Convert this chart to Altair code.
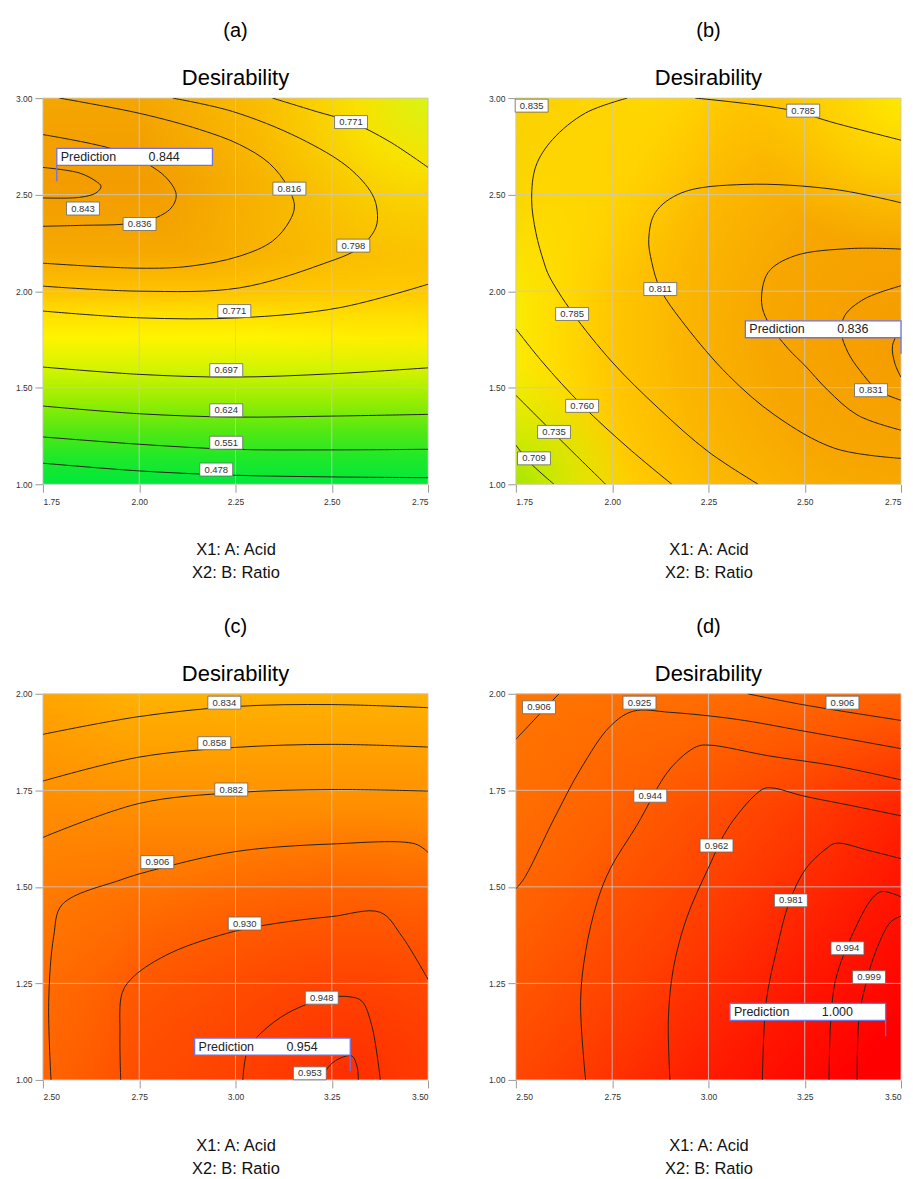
import altair as alt
import pandas as pd

FONT = "Liberation Sans, Arial, sans-serif"
NARROW = "Liberation Sans Narrow, Liberation Sans, Arial, sans-serif"

# ---------------- tick values ----------------
AB_X_TICKS = [1.75, 2.00, 2.25, 2.50, 2.75]
AB_Y_TICKS = [1.00, 1.50, 2.00, 2.50, 3.00]
CD_X_TICKS = [2.50, 2.75, 3.00, 3.25, 3.50]
CD_Y_TICKS = [1.00, 1.25, 1.50, 1.75, 2.00]

# ---------------- panel (a) ----------------
A_C0843 = [(1.75, 2.641), (1.845, 2.612), (1.888, 2.569), (1.901, 2.543), (1.888, 2.509), (1.845, 2.486), (1.75, 2.483)]
A_C0836 = [(1.75, 2.811), (1.923, 2.741), (2.009, 2.673), (2.071, 2.586), (2.096, 2.500), (2.083, 2.431), (2.034, 2.373), (1.966, 2.348), (1.853, 2.341), (1.75, 2.336)]
A_C0816 = [(1.793, 3.0), (2.001, 2.921), (2.156, 2.838), (2.260, 2.760), (2.338, 2.662), (2.385, 2.543), (2.403, 2.440), (2.390, 2.362), (2.346, 2.259), (2.260, 2.181), (2.130, 2.129), (2.001, 2.119), (1.75, 2.145)]
A_C0798 = [(2.087, 3.0), (2.242, 2.931), (2.416, 2.793), (2.545, 2.638), (2.605, 2.502), (2.618, 2.414), (2.614, 2.328), (2.571, 2.224), (2.475, 2.140), (2.260, 2.017), (2.001, 2.000), (1.75, 2.026)]
A_C0771_TOP = [(2.346, 3.0), (2.459, 2.931), (2.550, 2.876), (2.649, 2.776), (2.750, 2.641)]
A_C0771_LOW = [(1.75, 1.897), (2.001, 1.862), (2.260, 1.862), (2.519, 1.914), (2.750, 2.036)]
A_C0697 = [(1.75, 1.607), (2.001, 1.569), (2.242, 1.555), (2.501, 1.572), (2.750, 1.603)]
A_C0624 = [(1.75, 1.405), (2.001, 1.365), (2.242, 1.348), (2.501, 1.353), (2.750, 1.362)]
A_C0551 = [(1.75, 1.245), (2.001, 1.207), (2.242, 1.181), (2.501, 1.178), (2.750, 1.181)]
A_C0478 = [(1.75, 1.109), (2.001, 1.069), (2.242, 1.047), (2.501, 1.038), (2.750, 1.034)]
A_LABEL_TEXT = ["0.771", "0.843", "0.836", "0.816", "0.798", "0.771", "0.697", "0.624", "0.551", "0.478"]
A_LABEL_X = [2.550, 1.854, 2.001, 2.390, 2.556, 2.247, 2.226, 2.226, 2.226, 2.200]
A_LABEL_Y = [2.876, 2.428, 2.348, 2.531, 2.236, 1.897, 1.591, 1.383, 1.215, 1.076]
A_PRED = (1.786, 2.569, "0.844")

# ---------------- panel (b) ----------------
B_C0785_LEFT = [(2.039, 3.0), (1.931, 2.923), (1.845, 2.785), (1.802, 2.648), (1.791, 2.476), (1.802, 2.303), (1.823, 2.149), (1.836, 2.080), (1.896, 1.891), (2.000, 1.633), (2.121, 1.392), (2.250, 1.168), (2.379, 1.0)]
B_C0785_TOP = [(2.216, 3.0), (2.457, 2.940), (2.578, 2.871), (2.750, 2.782)]
B_C0709 = [(1.75, 1.203), (1.784, 1.117), (1.849, 1.0)]
B_C0735 = [(1.75, 1.461), (1.802, 1.357), (1.888, 1.186), (1.983, 1.0)]
B_C0760 = [(1.75, 1.805), (1.819, 1.633), (1.922, 1.409), (2.043, 1.186), (2.155, 1.0)]
B_C0811 = [(2.75, 2.458), (2.578, 2.527), (2.345, 2.553), (2.181, 2.510), (2.112, 2.407), (2.095, 2.269), (2.103, 2.149), (2.125, 2.011), (2.190, 1.822), (2.302, 1.564), (2.423, 1.357), (2.578, 1.186), (2.75, 1.134)]
B_C0823 = [(2.75, 2.218), (2.621, 2.221), (2.474, 2.183), (2.405, 2.097), (2.388, 1.942), (2.405, 1.839), (2.457, 1.702), (2.500, 1.616), (2.560, 1.487), (2.638, 1.357), (2.75, 1.280)]
B_C0831 = [(2.75, 2.028), (2.655, 1.960), (2.604, 1.874), (2.595, 1.787), (2.612, 1.684), (2.643, 1.590), (2.690, 1.487), (2.75, 1.435)]
B_C0835 = [(2.75, 1.812), (2.728, 1.719), (2.734, 1.626), (2.75, 1.554)]
B_LABEL_TEXT = ["0.835", "0.785", "0.811", "0.785", "0.760", "0.735", "0.709", "0.831"]
B_LABEL_X = [1.791, 2.496, 2.125, 1.896, 1.922, 1.849, 1.797, 2.672]
B_LABEL_Y = [2.961, 2.935, 2.011, 1.882, 1.406, 1.271, 1.134, 1.487]
B_PRED = (2.75, 1.676, "0.836")

# ---------------- panel (c) ----------------
C_C0834 = [(2.5, 1.895), (2.75, 1.941), (2.998, 1.967), (3.25, 1.972), (3.5, 1.964)]
C_C0858 = [(2.5, 1.774), (2.75, 1.836), (2.998, 1.861), (3.25, 1.869), (3.5, 1.862)]
C_C0882 = [(2.5, 1.628), (2.75, 1.716), (2.998, 1.744), (3.25, 1.752), (3.5, 1.748)]
C_C0906 = [(2.521, 1.0), (2.515, 1.201), (2.528, 1.372), (2.550, 1.454), (2.702, 1.518), (2.789, 1.544), (2.998, 1.591), (3.25, 1.611), (3.467, 1.611), (3.5, 1.589)]
C_C0930 = [(2.702, 1.0), (2.700, 1.114), (2.706, 1.226), (2.737, 1.269), (2.832, 1.329), (2.998, 1.385), (3.137, 1.410), (3.25, 1.423), (3.376, 1.434), (3.432, 1.372), (3.5, 1.260)]
C_C0948 = [(3.019, 1.0), (3.032, 1.079), (3.067, 1.122), (3.137, 1.174), (3.241, 1.213), (3.298, 1.215), (3.328, 1.204), (3.354, 1.140), (3.376, 1.0)]
C_C0953 = [(3.224, 1.0), (3.241, 1.033), (3.267, 1.054), (3.302, 1.062), (3.316, 1.033), (3.319, 1.0)]
C_LABEL_TEXT = ["0.834", "0.858", "0.882", "0.906", "0.930", "0.948", "0.953"]
C_LABEL_X = [2.971, 2.945, 2.989, 2.797, 3.024, 3.224, 3.193]
C_LABEL_Y = [1.977, 1.872, 1.752, 1.564, 1.405, 1.213, 1.017]
C_PRED = (3.298, 1.023, "0.954")

# ---------------- panel (d) ----------------
D_C0906_LEFT = [(2.612, 2.0), (2.565, 1.951), (2.5, 1.882)]
D_C0906_RIGHT = [(3.102, 2.0), (3.244, 1.972), (3.5, 1.931)]
D_C0925 = [(2.5, 1.495), (2.521, 1.521), (2.599, 1.676), (2.668, 1.805), (2.745, 1.916), (2.805, 1.955), (2.900, 1.952), (3.072, 1.934), (3.244, 1.904), (3.5, 1.858)]
D_C0944 = [(2.681, 1.0), (2.668, 1.203), (2.681, 1.332), (2.711, 1.461), (2.745, 1.547), (2.814, 1.659), (2.900, 1.805), (2.969, 1.863), (3.003, 1.867), (3.158, 1.839), (3.331, 1.813), (3.5, 1.777)]
D_C0962 = [(2.900, 1.0), (2.896, 1.160), (2.909, 1.289), (2.943, 1.418), (2.999, 1.547), (3.055, 1.659), (3.141, 1.753), (3.167, 1.756), (3.244, 1.736), (3.373, 1.710), (3.5, 1.684)]
D_C0981 = [(3.140, 1.0), (3.150, 1.203), (3.176, 1.332), (3.210, 1.461), (3.253, 1.547), (3.305, 1.598), (3.331, 1.613), (3.417, 1.594), (3.5, 1.573)]
D_C0994 = [(3.313, 1.0), (3.318, 1.160), (3.331, 1.263), (3.373, 1.375), (3.425, 1.470), (3.451, 1.488), (3.5, 1.474)]
D_C0999 = [(3.386, 1.0), (3.391, 1.160), (3.408, 1.246), (3.434, 1.332), (3.473, 1.409), (3.5, 1.424)]
D_LABEL_TEXT = ["0.906", "0.925", "0.906", "0.944", "0.962", "0.981", "0.994", "0.999"]
D_LABEL_X = [2.560, 2.821, 3.348, 2.849, 3.021, 3.214, 3.361, 3.417]
D_LABEL_Y = [1.965, 1.977, 1.977, 1.736, 1.607, 1.465, 1.341, 1.266]
D_PRED = (3.460, 1.113, "1.000")


# ---------------- styling helpers ----------------
def lin(stops, x1=0, y1=0, x2=0, y2=1):
    return {"gradient": "linear", "x1": x1, "y1": y1, "x2": x2, "y2": y2,
            "stops": [{"offset": o, "color": c} for o, c in stops]}


def rad(stops, cx, cy, r):
    return {"gradient": "radial", "x1": cx, "y1": cy, "r1": 0, "x2": cx, "y2": cy, "r2": r,
            "stops": [{"offset": o, "color": c} for o, c in stops]}


FILLS_A = [
    lin([(0, "#f5a600"), (0.22, "#f29c00"), (0.4, "#f6a800"), (0.5, "#ffc200"), (0.56, "#ffe000"),
         (0.62, "#fff400"), (0.7, "#d4f400"), (0.78, "#9aee00"), (0.86, "#55e812"), (0.93, "#20e828"), (1, "#00e83c")]),
    rad([(0, "rgba(215,245,20,1)"), (0.25, "rgba(250,235,0,0.85)"), (0.6, "rgba(255,215,0,0.45)"), (1, "rgba(255,210,0,0)")], 1, 0, 0.75),
]
FILLS_B = [
    rad([(0, "#f59c00"), (0.3, "#f7a600"), (0.5, "#fbb600"), (0.65, "#ffc600"), (0.78, "#ffdc00"),
         (0.88, "#faec00"), (0.95, "#d8ec00"), (1, "#b0e600")], 1, 0.62, 1.15),
    rad([(0, "rgba(255,208,0,1)"), (0.5, "rgba(255,210,0,0.8)"), (1, "rgba(255,212,0,0)")], 0, 0, 0.55),
    rad([(0, "rgba(255,232,0,1)"), (0.5, "rgba(255,222,0,0.6)"), (1, "rgba(255,210,0,0)")], 1, 0, 0.4),
    rad([(0, "rgba(170,230,0,1)"), (1, "rgba(200,235,0,0)")], 0, 1, 0.3),
]
FILLS_C = [
    lin([(0, "#ffb200"), (0.1, "#ffa600"), (0.25, "#ff9400"), (0.4, "#ff8000"), (0.55, "#ff6e00"), (0.75, "#ff5c00"), (1, "#ff5000")]),
    rad([(0, "rgba(255,40,0,0.85)"), (1, "rgba(255,60,0,0)")], 0.8, 1, 0.7),
    lin([(0, "rgba(255,140,0,0.35)"), (1, "rgba(255,140,0,0)")], 0, 0, 0.25, 0),
]
FILLS_D = [
    lin([(0, "#ff7c00"), (0.3, "#ff6000"), (0.55, "#ff4000"), (0.8, "#ff1800"), (1, "#ff0000")], 0, 0, 1, 0.85),
    lin([(0, "rgba(255,115,0,0.7)"), (1, "rgba(255,100,0,0)")], 0, 0, 0, 0.3),
]


def contour_df(contours):
    rows = []
    for name, pts in contours.items():
        for i, (x, y) in enumerate(pts):
            rows.append({"level": name, "o": i, "x": x, "y": y})
    return pd.DataFrame(rows)


def panel(letter, xdom, ydom, xticks, yticks, contours, ltext, lx, ly, pred, side, fills):
    xs = alt.Scale(domain=xdom, nice=False, zero=False)
    ys = alt.Scale(domain=ydom, nice=False, zero=False)
    xaxis = alt.Axis(values=xticks, format=".2f", title=["X1: A: Acid", "X2: B: Ratio"], grid=False,
                     domain=False, tickSize=8, tickColor="#999999", labelFontSize=8.5, labelFont=NARROW,
                     labelColor="#333333", labelPadding=5, titleFontSize=16.5, titleFont=FONT,
                     titleFontWeight="normal", titleColor="#111111", titlePadding=36, titleLineHeight=23)
    yaxis = alt.Axis(values=yticks, format=".2f", title="", grid=False, domain=False, tickSize=8,
                     tickColor="#999999", labelFontSize=8.5, labelFont=NARROW, labelColor="#333333",
                     labelPadding=3)

    def X():
        return alt.X("x:Q", scale=xs, axis=xaxis)

    def Y():
        return alt.Y("y:Q", scale=ys, axis=yaxis)

    bg = pd.DataFrame({"x": [xdom[0]], "x2": [xdom[1]], "y": [ydom[0]], "y2": [ydom[1]]})
    layers = []
    for g in fills:
        layers.append(alt.Chart(bg).mark_rect(fill=g, strokeWidth=0).encode(
            x=X(), x2="x2:Q", y=Y(), y2="y2:Q"))

    gx = pd.DataFrame({"x": xticks})
    gy = pd.DataFrame({"y": yticks})
    layers.append(alt.Chart(gx).mark_rule(color="#c8c8c8", strokeWidth=1, opacity=0.85).encode(x=X()))
    layers.append(alt.Chart(gy).mark_rule(color="#c8c8c8", strokeWidth=1, opacity=0.85).encode(y=Y()))

    layers.append(alt.Chart(contour_df(contours)).mark_line(
        interpolate="catmull-rom", color="#262218", strokeWidth=1, clip=True).encode(
        x=X(), y=Y(), detail="level:N", order="o:Q"))

    ldf = pd.DataFrame({"t": ltext, "x": lx, "y": ly})
    layers.append(alt.Chart(ldf).mark_rect(
        fill="white", stroke="#666666", strokeWidth=0.8,
        xOffset=-16.5, x2Offset=16.5, yOffset=-6.5, y2Offset=6.5).encode(
        x=X(), x2=alt.X2("x"), y=Y(), y2=alt.Y2("y")))
    layers.append(alt.Chart(ldf).mark_text(font=FONT, fontSize=9.5, color="#333333").encode(
        x=X(), y=Y(), text="t:N"))

    pdf = pd.DataFrame({"x": [pred[0]], "y": [pred[1]], "v": [pred[2]], "p": ["Prediction"]})
    if side == "left":
        b0, b1 = 0, 156
    else:
        b0, b1 = -156, 0
    pcol = "#7272dc"
    layers.append(alt.Chart(pdf).mark_rule(color=pcol, strokeWidth=1.3, yOffset=-16).encode(
        x=X(), y=Y(), y2=alt.Y2("y")))
    layers.append(alt.Chart(pdf).mark_rect(
        fill="white", stroke=pcol, strokeWidth=1.3,
        xOffset=b0, x2Offset=b1, yOffset=-33, y2Offset=-16).encode(
        x=X(), x2=alt.X2("x"), y=Y(), y2=alt.Y2("y")))
    layers.append(alt.Chart(pdf).mark_text(font=FONT, fontSize=12.5, color="#222222", align="left",
                                           baseline="middle", dx=b0 + 4, dy=-24.5).encode(
        x=X(), y=Y(), text="p:N"))
    layers.append(alt.Chart(pdf).mark_text(font=FONT, fontSize=12.5, color="#222222", align="left",
                                           baseline="middle", dx=b0 + 92, dy=-24.5).encode(
        x=X(), y=Y(), text="v:N"))

    title = alt.TitleParams(text=f"({letter})", subtitle="Desirability", font=FONT, fontSize=20,
                            fontWeight="normal", color="#000000", subtitleFont=FONT, subtitleFontSize=22,
                            subtitleColor="#000000", subtitlePadding=27, offset=5, anchor="middle")
    return alt.layer(*layers).properties(width=386, height=387, title=title)


pa = panel("a", [1.75, 2.75], [1.0, 3.0], AB_X_TICKS, AB_Y_TICKS,
           {"0.843": A_C0843, "0.836": A_C0836, "0.816": A_C0816, "0.798": A_C0798,
            "0.771t": A_C0771_TOP, "0.771l": A_C0771_LOW, "0.697": A_C0697, "0.624": A_C0624,
            "0.551": A_C0551, "0.478": A_C0478},
           A_LABEL_TEXT, A_LABEL_X, A_LABEL_Y, A_PRED, "left", FILLS_A)
pb = panel("b", [1.75, 2.75], [1.0, 3.0], AB_X_TICKS, AB_Y_TICKS,
           {"0.785l": B_C0785_LEFT, "0.785t": B_C0785_TOP, "0.709": B_C0709, "0.735": B_C0735,
            "0.760": B_C0760, "0.811": B_C0811, "0.823": B_C0823, "0.831": B_C0831, "0.835": B_C0835},
           B_LABEL_TEXT, B_LABEL_X, B_LABEL_Y, B_PRED, "right", FILLS_B)
pc = panel("c", [2.5, 3.5], [1.0, 2.0], CD_X_TICKS, CD_Y_TICKS,
           {"0.834": C_C0834, "0.858": C_C0858, "0.882": C_C0882, "0.906": C_C0906,
            "0.930": C_C0930, "0.948": C_C0948, "0.953": C_C0953},
           C_LABEL_TEXT, C_LABEL_X, C_LABEL_Y, C_PRED, "right", FILLS_C)
pd_ = panel("d", [2.5, 3.5], [1.0, 2.0], CD_X_TICKS, CD_Y_TICKS,
            {"0.906l": D_C0906_LEFT, "0.906r": D_C0906_RIGHT, "0.925": D_C0925, "0.944": D_C0944,
             "0.962": D_C0962, "0.981": D_C0981, "0.994": D_C0994, "0.999": D_C0999},
            D_LABEL_TEXT, D_LABEL_X, D_LABEL_Y, D_PRED, "right", FILLS_D)

chart = alt.vconcat(
    alt.hconcat(pa, pb, spacing=59),
    alt.hconcat(pc, pd_, spacing=59),
    spacing=36,
).configure_view(strokeWidth=0).properties(padding={"left": 7, "top": 12, "right": 3, "bottom": 3})

chart.save("out.html", embed_options={"renderer": "svg", "actions": False})
